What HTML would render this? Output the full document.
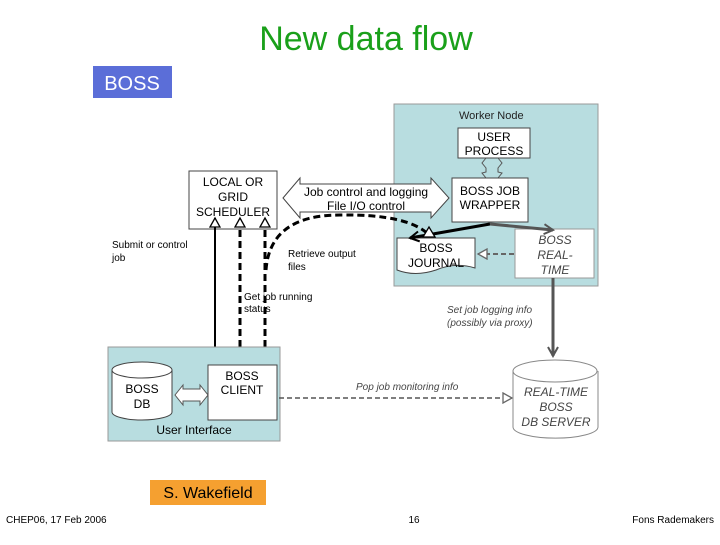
<!DOCTYPE html>
<html><head><style>
body{margin:0;width:720px;height:540px;background:#fff;overflow:hidden;font-family:"Liberation Sans",sans-serif}
</style></head><body>
<svg width="720" height="540" xmlns="http://www.w3.org/2000/svg" font-family="Liberation Sans, sans-serif">
<defs>
<marker id="tri" markerWidth="12" markerHeight="12" refX="10" refY="6" orient="auto" markerUnits="userSpaceOnUse"><path d="M1,1 L10,6 L1,11 Z" fill="#fff" stroke="#000" stroke-width="1.3"/></marker>
<marker id="triG" markerWidth="12" markerHeight="12" refX="10" refY="6" orient="auto" markerUnits="userSpaceOnUse"><path d="M1,1 L10,6 L1,11 Z" fill="#fff" stroke="#666" stroke-width="1.3"/></marker>
<marker id="ar" markerWidth="12" markerHeight="12" refX="10" refY="6" orient="auto" markerUnits="userSpaceOnUse"><path d="M1,1 L10,6 L1,11" fill="none" stroke="#000" stroke-width="2"/></marker>
<marker id="arG" markerWidth="12" markerHeight="12" refX="10" refY="6" orient="auto" markerUnits="userSpaceOnUse"><path d="M1,1 L10,6 L1,11" fill="none" stroke="#555" stroke-width="2"/></marker>
</defs>
<text x="366" y="50" font-size="34" fill="#1aa01a" text-anchor="middle">New data flow</text>
<rect x="93" y="66" width="79" height="32" fill="#5b6ed8"/>
<text x="132" y="90" font-size="20" fill="#fff" text-anchor="middle">BOSS</text>

<!-- Worker node -->
<rect x="394" y="104" width="204" height="182" fill="#b8dde0" stroke="#999"/>
<text x="459" y="119" font-size="11" fill="#222">Worker Node</text>
<rect x="458" y="128" width="72" height="30" fill="#fff" stroke="#444"/>
<text x="494" y="141" font-size="12" text-anchor="middle">USER</text>
<text x="494" y="155" font-size="12" text-anchor="middle">PROCESS</text>
<path d="M486,158 L482,163 L486,168 L486,172 L482,173 L486,178 M498,158 L502,163 L498,168 L498,172 L502,173 L498,178" fill="none" stroke="#555"/>
<rect x="452" y="178" width="76" height="44" fill="#fff" stroke="#444"/>
<text x="490" y="195" font-size="12" text-anchor="middle">BOSS JOB</text>
<text x="490" y="209" font-size="12" text-anchor="middle">WRAPPER</text>
<path d="M397,238 H475 V268 Q455,262 436,270 Q415,277 397,270 Z" fill="#fff" stroke="#444"/>
<text x="436" y="252" font-size="12" text-anchor="middle">BOSS</text>
<text x="436" y="267" font-size="12" text-anchor="middle">JOURNAL</text>
<rect x="515" y="229" width="79" height="49" fill="#fff" stroke="#999"/>
<text x="555" y="244" font-size="12" font-style="italic" fill="#444" text-anchor="middle">BOSS</text>
<text x="555" y="259" font-size="12" font-style="italic" fill="#444" text-anchor="middle">REAL-</text>
<text x="555" y="274" font-size="12" font-style="italic" fill="#444" text-anchor="middle">TIME</text>
<line x1="514" y1="254" x2="478" y2="254" stroke="#666" stroke-width="2" stroke-dasharray="5,3" marker-end="url(#triG)"/>
<line x1="490" y1="224" x2="410" y2="238" stroke="#000" stroke-width="3" marker-end="url(#ar)"/>
<line x1="490" y1="224" x2="553" y2="230" stroke="#555" stroke-width="3" marker-end="url(#arG)"/>

<!-- scheduler -->
<rect x="189" y="171" width="88" height="58" fill="#fff" stroke="#444"/>
<text x="233" y="186" font-size="12" text-anchor="middle">LOCAL OR</text>
<text x="233" y="201" font-size="12" text-anchor="middle">GRID</text>
<text x="233" y="216" font-size="12" text-anchor="middle">SCHEDULER</text>
<path d="M283,198 L300,178 L300,184 L431,184 L431,178 L449,198 L431,218 L431,212 L300,212 L300,218 Z" fill="#fff" stroke="#444"/>
<text x="366" y="196" font-size="12" text-anchor="middle">Job control and logging</text>
<text x="366" y="210" font-size="12" text-anchor="middle">File I/O control</text>

<!-- vertical connectors -->
<line x1="215" y1="347" x2="215" y2="218" stroke="#000" stroke-width="2" marker-end="url(#tri)"/>
<line x1="240" y1="347" x2="240" y2="218" stroke="#000" stroke-width="3" stroke-dasharray="7,4" marker-end="url(#tri)"/>
<line x1="265" y1="347" x2="265" y2="218" stroke="#000" stroke-width="3" stroke-dasharray="7,4" marker-end="url(#tri)"/>
<path d="M266,270 Q270,215 340,215 Q410,214 430,236" fill="none" stroke="#000" stroke-width="3" stroke-dasharray="7,4"/>
<path d="M423,237 L429,227 L435,237 Z" fill="#fff" stroke="#000" stroke-width="1.3"/>
<text x="112" y="248" font-size="10">Submit or control</text>
<text x="112" y="261" font-size="10">job</text>
<text x="288" y="257" font-size="10">Retrieve output</text>
<text x="288" y="270" font-size="10">files</text>
<text x="244" y="300" font-size="10">Get job running</text>
<text x="244" y="312" font-size="10">status</text>

<!-- set job logging -->
<line x1="553" y1="278" x2="553" y2="356" stroke="#555" stroke-width="3" marker-end="url(#arG)"/>
<text x="447" y="313" font-size="10" font-style="italic" fill="#444">Set job logging info</text>
<text x="447" y="326" font-size="10" font-style="italic" fill="#444">(possibly via proxy)</text>

<!-- user interface -->
<rect x="108" y="347" width="172" height="94" fill="#b8dde0" stroke="#999"/>
<path d="M112,370 V412 A30,8 0 0 0 172,412 V370" fill="#fff" stroke="#444"/>
<ellipse cx="142" cy="370" rx="30" ry="8" fill="#fff" stroke="#444"/>
<text x="142" y="393" font-size="12" text-anchor="middle">BOSS</text>
<text x="142" y="408" font-size="12" text-anchor="middle">DB</text>
<path d="M175,395 L183,385 V389 H200 V385 L208,395 L200,405 V401 H183 V405 Z" fill="#fff" stroke="#555"/>
<rect x="208" y="365" width="69" height="55" fill="#fff" stroke="#444"/>
<text x="242" y="380" font-size="12" text-anchor="middle">BOSS</text>
<text x="242" y="394" font-size="12" text-anchor="middle">CLIENT</text>
<text x="194" y="434" font-size="12" text-anchor="middle">User Interface</text>

<line x1="279" y1="398" x2="512" y2="398" stroke="#555" stroke-width="1.5" stroke-dasharray="5,3" marker-end="url(#triG)"/>
<text x="356" y="390" font-size="10" font-style="italic" fill="#444">Pop job monitoring info</text>

<path d="M513,371 V427 A42,11 0 0 0 598,427 V371" fill="#fff" stroke="#888"/>
<ellipse cx="555" cy="371" rx="42" ry="11" fill="#fff" stroke="#888"/>
<text x="556" y="396" font-size="12" font-style="italic" fill="#444" text-anchor="middle">REAL-TIME</text>
<text x="556" y="411" font-size="12" font-style="italic" fill="#444" text-anchor="middle">BOSS</text>
<text x="556" y="426" font-size="12" font-style="italic" fill="#444" text-anchor="middle">DB SERVER</text>

<rect x="150" y="480" width="116" height="25" fill="#f5a030"/>
<text x="208" y="498" font-size="16" text-anchor="middle">S. Wakefield</text>
<text x="6" y="523" font-size="10">CHEP06, 17 Feb 2006</text>
<text x="414" y="523" font-size="10" text-anchor="middle">16</text>
<text x="714" y="523" font-size="10" text-anchor="end">Fons Rademakers</text>
</svg>
</body></html>
